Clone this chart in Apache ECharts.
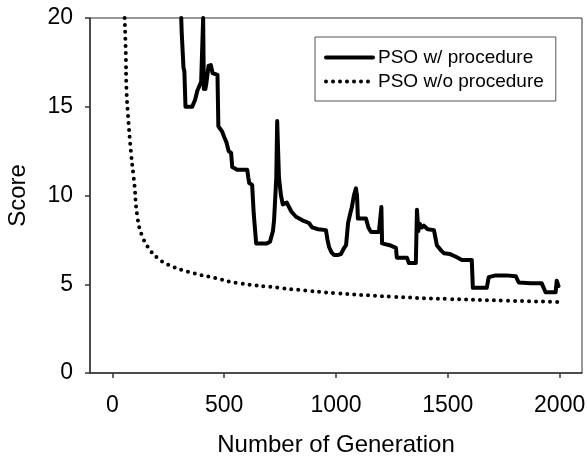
<!DOCTYPE html>
<html>
<head>
<meta charset="utf-8">
<script src="https://cdn.jsdelivr.net/npm/echarts@6/dist/echarts.min.js"></script>
<style>
html,body{margin:0;padding:0;background:#fff;}
#chart{width:587px;height:457px;}
</style>
</head>
<body>
<div id="chart"></div>
<script>
var xTicks = [0, 500, 1000, 1500, 2000];
var yTicks = [0, 5, 10, 15, 20];
var seriesNames = ['PSO w/ procedure', 'PSO w/o procedure'];

var withProcedure = [
[308,20],[310,19.2],[317,19.2],[318,17.2],[322,17.0],[327,15.0],[357,15.0],[370,15.4],[380,15.9],[397,16.4],[404,16.3],[406,20],[409,16.0],[413,16.4],[416,16.0],[420,16.3],[425,16.3],[430,17.3],[440,17.35],[448,16.9],[470,16.8],[474,13.9],[491,13.6],[500,13.3],[510,13.0],[520,12.5],[531,12.4],[536,11.6],[558,11.45],[603,11.45],[608,11.0],[612,10.7],[625,10.6],[632,9.0],[643,7.3],[670,7.3],[690,7.3],[705,7.4],[712,7.3],[718,8.0],[723,8.6],[733,11.0],[737,14.2],[741,14.2],[745,11.0],[754,10.0],[762,9.5],[768,9.4],[780,9.6],[800,9.1],[821,8.8],[850,8.6],[879,8.45],[893,8.2],[920,8.1],[955,8.05],[962,7.5],[969,7.1],[980,6.8],[991,6.65],[1010,6.65],[1022,6.7],[1036,7.04],[1045,7.2],[1054,8.45],[1064,9.0],[1071,9.35],[1080,10.0],[1089,10.4],[1094,10.0],[1098,8.7],[1134,8.7],[1145,8.2],[1156,7.95],[1192,7.95],[1200,7.9],[1203,9.35],[1206,7.3],[1240,7.2],[1268,7.05],[1272,6.5],[1317,6.5],[1326,6.2],[1357,6.2],[1362,9.2],[1368,8.0],[1375,8.4],[1384,8.2],[1393,8.3],[1410,8.1],[1438,8.05],[1451,7.2],[1470,6.9],[1482,6.75],[1510,6.7],[1536,6.55],[1563,6.37],[1607,6.37],[1612,4.8],[1674,4.8],[1683,5.4],[1714,5.5],[1760,5.5],[1804,5.45],[1817,5.1],[1870,5.05],[1920,5.05],[1937,4.55],[1982,4.55],[1987,5.2],[1995,4.9]
];

var withoutProcedure = [
[55,20],[60,18],[63,16],[70,14.5],[85,12.2],[98,10.7],[112,8.8],[134,7.7],[170,6.9],[200,6.5],[250,6.1],[340,5.7],[460,5.35],[560,5.07],[745,4.8],[835,4.68],[1000,4.5],[1250,4.3],[1500,4.17],[1750,4.08],[2000,4.0]
];

var chart = echarts.init(document.getElementById('chart'), null, {renderer: 'canvas'});
var font = 'Liberation Sans, Arial, sans-serif';
chart.setOption({
  animation: false,
  backgroundColor: '#fff',
  grid: {left: 90, top: 18, right: 5, bottom: 84, show: true, borderColor: '#333', borderWidth: 1, containLabel: false, outerBoundsMode: 'none'},
  legend: {
    data: seriesNames,
    orient: 'vertical',
    left: 315, top: 37,
    padding: [11, 12, 10, 9],
    itemGap: 5,
    itemWidth: 47, itemHeight: 14,
    borderColor: '#555', borderWidth: 1,
    itemStyle: {color: 'rgba(0,0,0,0)', borderWidth: 0, opacity: 0},
    lineStyle: {width: 4},
    textStyle: {fontFamily: font, fontSize: 19, color: '#000'}
  },
  xAxis: {
    type: 'value', min: -100, max: 2100,
    name: 'Number of Generation', nameLocation: 'middle', nameGap: 60,
    nameTextStyle: {fontFamily: font, fontSize: 24, color: '#000'},
    splitLine: {show: false},
    axisLine: {show: true, onZero: false, lineStyle: {color: '#333', width: 1.5}},
    axisTick: {show: true, inside: false, length: 5, customValues: xTicks, lineStyle: {color: '#333', width: 1.5}},
    axisLabel: {customValues: xTicks, margin: 21, fontFamily: font, fontSize: 23, color: '#000',
      formatter: function (v) { return String(v); }}
  },
  yAxis: {
    type: 'value', min: 0, max: 20, interval: 5,
    name: 'Score', nameLocation: 'middle', nameGap: 60,
    nameTextStyle: {fontFamily: font, fontSize: 24, color: '#000'},
    splitLine: {show: false},
    axisLine: {show: true, onZero: false, lineStyle: {color: '#333', width: 1.5}},
    axisTick: {show: true, inside: false, length: 5, lineStyle: {color: '#333', width: 1.5}},
    axisLabel: {margin: 17, fontFamily: font, fontSize: 23, color: '#000',
      formatter: function (v) { return String(v); }}
  },
  series: [
    {
      name: seriesNames[0], type: 'line', data: withProcedure,
      showSymbol: false, symbol: 'none', smooth: false,
      lineStyle: {color: '#000', width: 4, join: 'round', cap: 'round'},
      itemStyle: {color: '#000'}
    },
    {
      name: seriesNames[1], type: 'line', data: withoutProcedure,
      showSymbol: false, symbol: 'none', smooth: true,
      lineStyle: {color: '#000', width: 4, type: [0, 7], cap: 'round'},
      itemStyle: {color: '#000'}
    }
  ]
});
</script>
</body>
</html>
